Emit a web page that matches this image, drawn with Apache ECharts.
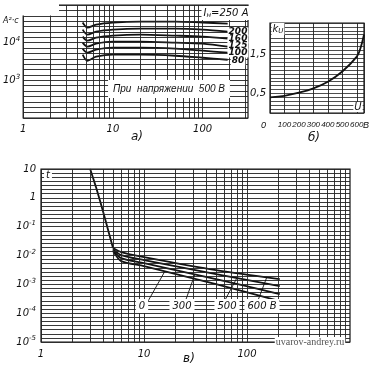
<!DOCTYPE html>
<html><head><meta charset="utf-8">
<script src="https://cdn.jsdelivr.net/npm/echarts@6/dist/echarts.min.js"></script>
<style>html,body{margin:0;padding:0;background:#fff}#c{width:369px;height:368px}</style>
</head><body><div id="c"></div>
<script>
// ---------- Chart а) : I²t vs multiple of current, log-log ----------
const aX = [4.6, 5.2, 6.5, 10, 20, 50, 100, 190];
const aCurveNames = ['250', '200', '160', '125', '100', '80'];
const a250 = [34150, 25100, 30200, 34150, 36300, 36300, 34150, 32100];
const a200 = [22200, 16350, 19650, 22200, 23600, 23600, 22200, 19650];
const a160 = [14450, 11300, 13600, 15380, 16350, 15380, 14450, 12780];
const a125 = [10000, 7820, 9400, 10630, 10630, 10000, 9400, 7820];
const a100 = [6920, 5410, 6510, 7360, 7360, 6920, 6120, 5410];
const a80  = [4790, 3310, 4230, 4790, 4790, 4500, 3980, 3520];
const aXTickLabels = [1, 10, 100];
const aYTickExps = [3, 4];

// ---------- Chart б) : k_U vs U ----------
const bU = [0, 100, 200, 300, 400, 500, 600, 625, 650];
const bK = [0.40, 0.44, 0.52, 0.63, 0.80, 1.06, 1.44, 1.65, 2.0];
const bXTickLabels = [0, 100, 200, 300, 400, 500, 600];
const bYTickLabels = [0.5, 1.5];

// ---------- Chart в) : t vs multiple of current ----------
const cSteepX = [3.0, 3.4, 3.8, 4.2, 4.57, 5.0];
const cSteepY = [10, 2.5, 0.65, 0.18, 0.059, 0.0181];
const cX = [5, 6, 10, 50, 208];
const cVoltNames = ['600 В', '500', '300', '0'];
const c600 = [0.0181, 0.0131, 0.0088, 0.00311, 0.00152];
const c500 = [0.0167, 0.0103, 0.00692, 0.00226, 0.000866];
const c300 = [0.0154, 0.0081, 0.00545, 0.00152, 0.000457];
const c0   = [0.0142, 0.0064, 0.00428, 0.00102, 0.000261];
const cLead0   = [[10.8, 0.00024], [16, 0.0029]];
const cLead300 = [[25, 0.00024], [31, 0.0021]];
const cLead500 = [[61, 0.00028], [80, 0.0017]];
const cLead600 = [[128, 0.00028], [156, 0.0018]];
const cXTickLabels = [1, 10, 100];
const cYTickExps = [1, 0, -1, -2, -3, -4, -5];

const FF = 'DejaVu Sans';
const INK = '#111';
const GRIDC = '#222';

// vertical rulings of the log paper: 1..9 x 10^k
function logValues(e0, e1, maxV) {
  const out = [];
  for (let e = e0; e < e1; e++) for (let m = 1; m <= 9; m++) {
    const v = m * Math.pow(10, e);
    if (v <= maxV * 1.0001) out.push(+v.toPrecision(6));
  }
  return out;
}
// horizontal rulings of the paper: evenly spaced within each decade
function evenLog(e0, e1, n) {
  const out = [];
  for (let e = e0; e < e1; e++) for (let j = 0; j < n; j++) out.push(Math.pow(10, e + j / n));
  out.push(Math.pow(10, e1));
  return out;
}
function markGrid(xs, ys) {
  return {
    silent: true, symbol: ['none', 'none'], animation: false, precision: 12,
    label: { show: false }, emphasis: { disabled: true },
    lineStyle: { color: GRIDC, width: 0.9, type: 'solid' },
    data: xs.map(v => ({ xAxis: v })).concat(ys.map(v => ({ yAxis: v })))
  };
}
function zip(xs, ys) { return xs.map((x, i) => [x, ys[i]]); }
function near(v, t) { return Math.abs(v - t) <= Math.abs(t) * 1e-3 + 1e-9; }
function expLabel(v, exps) {
  const e = Math.round(Math.log10(v));
  if (!near(v, Math.pow(10, e)) || exps.indexOf(e) < 0) return '';
  if (e === 1) return '{b|10}';
  if (e === 0) return '{b|1}';
  return '{b|10}{s|' + e + '}';
}
const supRich = {
  b: { fontSize: 10, fontStyle: 'italic', fontFamily: FF, color: INK },
  s: { fontSize: 7, fontStyle: 'italic', fontFamily: FF, color: INK, padding: [0, 0, 7, 0] }
};
const curveStyle = { color: INK, width: 1.8 };
function curve(name, xs, ys, xi, extra) {
  return Object.assign({
    name, type: 'line', xAxisIndex: xi, yAxisIndex: xi, data: zip(xs, ys),
    showSymbol: false, symbol: 'none', smooth: 0.3, lineStyle: curveStyle,
    silent: true, animation: false, z: 3
  }, extra || {});
}
function lead(data) {
  return { type: 'line', xAxisIndex: 2, yAxisIndex: 2, data, showSymbol: false, symbol: 'none',
    lineStyle: { color: INK, width: 0.9 }, silent: true, animation: false, z: 5 };
}
const gridBox = { show: true, borderColor: '#111', borderWidth: 1.2, backgroundColor: 'transparent' };

const option = {
  animation: false,
  backgroundColor: '#fff',
  textStyle: { fontFamily: FF, fontStyle: 'italic', color: INK },
  grid: [
    Object.assign({ left: 20, top: 5, width: 228, height: 113 }, gridBox),
    Object.assign({ left: 270, top: 23, width: 94, height: 90 }, gridBox),
    Object.assign({ left: 41, top: 169, width: 309, height: 173 }, gridBox)
  ],
  xAxis: [
    { gridIndex: 0, type: 'log', logBase: 10, min: 1, max: 320,
      axisLine: { show: false }, axisTick: { show: false }, splitLine: { show: false },
      axisLabel: { margin: 6, fontSize: 10, fontStyle: 'italic', color: INK,
        formatter: v => aXTickLabels.some(t => near(v, t)) ? String(Math.round(v)) : '' } },
    { gridIndex: 1, type: 'value', min: 0, max: 650, interval: 100,
      axisLine: { show: false }, axisTick: { show: false },
      splitLine: { show: true, lineStyle: { color: GRIDC, width: 0.9 } },
      axisLabel: { margin: 8, fontSize: 8, fontStyle: 'italic', fontFamily: 'Liberation Sans', color: INK, showMaxLabel: false,
        formatter: v => v === 0 ? '{z|0}' : (bXTickLabels.indexOf(v) >= 0 ? String(v) : ''),
        rich: { z: { fontSize: 9, fontStyle: 'italic', fontFamily: 'Liberation Sans', color: INK, padding: [0, 13, 0, 0] } } } },
    { gridIndex: 2, type: 'log', logBase: 10, min: 1, max: 1000,
      axisLine: { show: false }, axisTick: { show: false }, splitLine: { show: false },
      axisLabel: { margin: 7, fontSize: 10, fontStyle: 'italic', color: INK,
        formatter: v => cXTickLabels.some(t => near(v, t)) ? String(Math.round(v)) : '' } }
  ],
  yAxis: [
    { gridIndex: 0, type: 'log', logBase: 10, min: 100, max: 100000,
      axisLine: { show: false }, axisTick: { show: false }, splitLine: { show: false },
      axisLabel: { margin: 3, formatter: v => expLabel(v, aYTickExps), rich: supRich } },
    { gridIndex: 1, type: 'value', min: 0, max: 2.3, interval: 0.1,
      axisLine: { show: false }, axisTick: { show: false },
      splitLine: { show: true, lineStyle: { color: GRIDC, width: 0.8 } },
      axisLabel: { margin: 4, fontSize: 10, fontStyle: 'italic', color: INK,
        formatter: v => { const t = bYTickLabels.find(x => near(v, x)); return t === undefined ? '' : String(t).replace('.', ','); } } },
    { gridIndex: 2, type: 'log', logBase: 10, min: 0.00001, max: 10,
      axisLine: { show: false }, axisTick: { show: false }, splitLine: { show: false },
      axisLabel: { margin: 5, formatter: v => expLabel(v, cYTickExps), rich: supRich } }
  ],
  series: [
    curve(aCurveNames[0], aX, a250, 0, { markLine: markGrid(logValues(0, 3, 320), evenLog(2, 5, 7)) }),
    curve(aCurveNames[1], aX, a200, 0),
    curve(aCurveNames[2], aX, a160, 0),
    curve(aCurveNames[3], aX, a125, 0),
    curve(aCurveNames[4], aX, a100, 0),
    curve(aCurveNames[5], aX, a80, 0),
    curve('kU', bU, bK, 1, { smooth: 0.4 }),
    curve('steep', cSteepX, cSteepY, 2, { smooth: 0.2, markLine: markGrid(logValues(0, 3, 1000), evenLog(-5, 1, 7)) }),
    curve(cVoltNames[0], cX, c600, 2, { smooth: 0.25 }),
    curve(cVoltNames[1], cX, c500, 2, { smooth: 0.25 }),
    curve(cVoltNames[2], cX, c300, 2, { smooth: 0.25 }),
    curve(cVoltNames[3], cX, c0, 2, { smooth: 0.25 }),
    lead(cLead0), lead(cLead300), lead(cLead500), lead(cLead600)
  ],
  graphic: [
    { type: 'rect', shape: { x: 0, y: 0, width: 19, height: 17 }, style: { fill: '#fff' }, z: 100 },
    { type: 'rect', shape: { x: 19, y: 0, width: 40, height: 15.5 }, style: { fill: '#fff' }, z: 100 },
    { type: 'text', x: 3, y: 17, z: 101, style: { text: 'А²·с', fontSize: 8, fontStyle: 'italic', fontFamily: FF, fill: INK } },
    { type: 'text', x: 226, y: 13, z: 101, style: {
        text: '{i|I}{u|н}{i|=250 А}', textAlign: 'center', textVerticalAlign: 'middle',
        backgroundColor: '#fff', padding: [1, 2],
        rich: { i: { fontSize: 10, fontStyle: 'italic', fontFamily: FF, fill: INK },
                u: { fontSize: 7, fontStyle: 'italic', fontFamily: FF, fill: INK, padding: [5, 0, 0, 0] } } } },
    ...[['200', 32], ['160', 39], ['125', 46], ['100', 53], ['80', 61]].map(([t, y]) => ({
      type: 'text', x: 238, y, z: 101, style: { text: t, textAlign: 'center', textVerticalAlign: 'middle',
        fontSize: 9, fontStyle: 'italic', fontWeight: 'bold', fontFamily: FF, fill: INK, backgroundColor: '#fff', padding: [0, 1] } })),
    { type: 'text', x: 169, y: 89, z: 101, style: { text: 'При  напряжении  500 В', textAlign: 'center', textVerticalAlign: 'middle',
        fontSize: 10, fontStyle: 'italic', fontFamily: 'Liberation Sans', fill: INK, backgroundColor: '#fff', padding: [4, 5] } },
    { type: 'text', x: 137, y: 137, z: 101, style: { text: 'а)', textAlign: 'center', textVerticalAlign: 'middle',
        fontSize: 12, fontStyle: 'italic', fontFamily: FF, fill: INK } },
    // chart б
    { type: 'text', x: 278, y: 29, z: 101, style: {
        text: '{k|k}{u|U}', textAlign: 'center', textVerticalAlign: 'middle', backgroundColor: '#fff', padding: [0, 1],
        rich: { k: { fontSize: 10, fontStyle: 'italic', fontFamily: FF, fill: INK },
                u: { fontSize: 7, fontStyle: 'italic', fontFamily: FF, fill: INK, padding: [5, 0, 0, 0] } } } },
    { type: 'text', x: 358, y: 107, z: 101, style: { text: 'U', textAlign: 'center', textVerticalAlign: 'middle',
        fontSize: 10, fontStyle: 'italic', fontFamily: FF, fill: INK, backgroundColor: '#fff', padding: [0, 1] } },
    { type: 'text', x: 363, y: 125, z: 101, style: { text: 'В', textAlign: 'left', textVerticalAlign: 'middle',
        fontSize: 9, fontStyle: 'italic', fontFamily: 'Liberation Sans', fill: INK } },
    { type: 'text', x: 314, y: 138, z: 101, style: { text: 'б)', textAlign: 'center', textVerticalAlign: 'middle',
        fontSize: 12, fontStyle: 'italic', fontFamily: FF, fill: INK } },
    // chart в
    { type: 'text', x: 48, y: 175, z: 101, style: { text: 't', textAlign: 'center', textVerticalAlign: 'middle',
        fontSize: 10, fontStyle: 'italic', fontFamily: FF, fill: INK, backgroundColor: '#fff', padding: [0, 2] } },
    ...[['0', 142], ['300', 182], ['500', 227], ['600 В', 262]].map(([t, x]) => ({
      type: 'text', x, y: 306, z: 101, style: { text: t, textAlign: 'center', textVerticalAlign: 'middle',
        fontSize: 10, fontStyle: 'italic', fontFamily: FF, fill: INK, backgroundColor: '#fff', padding: [2, 3] } })),
    { type: 'text', x: 310, y: 342, z: 101, style: { text: 'uvarov-andrey.ru', textAlign: 'center', textVerticalAlign: 'middle',
        fontSize: 10, fontFamily: 'Liberation Serif', fill: '#555', backgroundColor: '#fff', padding: [0, 1] } },
    { type: 'text', x: 189, y: 359, z: 101, style: { text: 'в)', textAlign: 'center', textVerticalAlign: 'middle',
        fontSize: 12, fontStyle: 'italic', fontFamily: FF, fill: INK } }
  ]
};
const chart = echarts.init(document.getElementById('c'), null, { renderer: 'canvas' });
chart.setOption(option);
</script>
</body></html>
